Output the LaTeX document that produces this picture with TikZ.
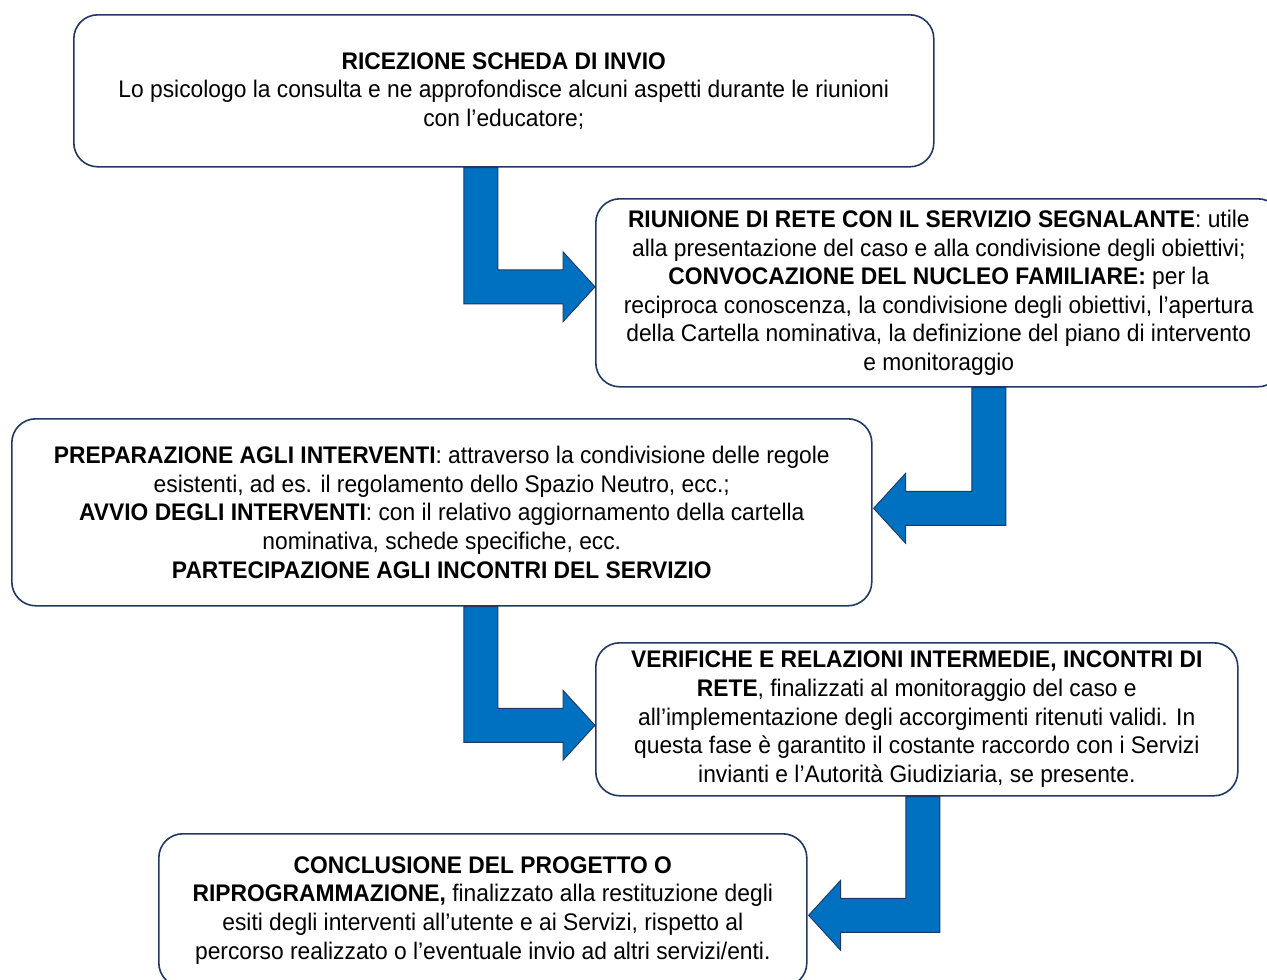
\documentclass[tikz,border=0pt]{standalone}
\usepackage{fontspec}
\setmainfont[FakeStretch=0.95]{Liberation Sans}
\usetikzlibrary{calc}
\definecolor{bordo}{HTML}{1F3864}
\definecolor{azzurro}{HTML}{0070C0}
% freccia a gomito: #1 attacco del fusto, #2 punta, #3 verso (1 destra, -1 sinistra)
\newcommand{\freccia}[3]{%
  \draw[freccia] let \p1=(#1), \p2=(#2) in
    ({\x1-(#3)*17pt},\y1) -- ({\x1-(#3)*17pt},{\y2-17pt})
    -- ({\x2-(#3)*32pt},{\y2-17pt}) -- ({\x2-(#3)*32pt},{\y2-35pt})
    -- (\x2,\y2) -- ({\x2-(#3)*32pt},{\y2+35pt})
    -- ({\x2-(#3)*32pt},{\y2+17pt}) -- ({\x1+(#3)*17pt},{\y2+17pt})
    -- ({\x1+(#3)*17pt},\y1) -- cycle;}
\begin{document}
\begin{tikzpicture}[x=1pt,y=-1pt,
    box/.style={draw=bordo, line width=1.6pt, rounded corners=24pt, inner sep=0pt,
      align=center, anchor=north west, font=\fontsize{24}{28.6}\selectfont},
    freccia/.style={fill=azzurro, draw=bordo, line width=0.9pt}]
  \useasboundingbox (0,0) rectangle (1267,980);

  % Ricezione scheda
  \node[box, minimum width=860pt, minimum height=152pt] (ricezione) at (73,14)
    {\textbf{RICEZIONE SCHEDA DI INVIO}\\
     Lo psicologo la consulta e ne approfondisce alcuni aspetti durante le riunioni\\
     con l’educatore;};

  % Riunione di rete
  \node[box, minimum width=686pt, minimum height=188pt] (riunione) at (595,198)
    {\textbf{RIUNIONE DI RETE CON IL SERVIZIO SEGNALANTE}: utile\\
     alla presentazione del caso e alla condivisione degli obiettivi;\\
     \textbf{CONVOCAZIONE DEL NUCLEO FAMILIARE:} per la\\
     reciproca conoscenza, la condivisione degli obiettivi, l’apertura\\
     della Cartella nominativa, la definizione del piano di intervento\\
     e monitoraggio};

  % Preparazione e avvio
  \node[box, minimum width=860pt, minimum height=187pt] (preparazione) at (11,418)
    {\textbf{PREPARAZIONE AGLI INTERVENTI}: attraverso la condivisione delle regole\\
     esistenti, ad es. il regolamento dello Spazio Neutro, ecc.;\\
     \textbf{AVVIO DEGLI INTERVENTI}: con il relativo aggiornamento della cartella\\
     nominativa, schede specifiche, ecc.\\
     \textbf{PARTECIPAZIONE AGLI INCONTRI DEL SERVIZIO}};

  % Verifiche
  \node[box, minimum width=642pt, minimum height=153pt] (verifiche) at (595,642)
    {\textbf{VERIFICHE E RELAZIONI INTERMEDIE, INCONTRI DI}\\
     \textbf{RETE}, finalizzati al monitoraggio del caso e\\
     all’implementazione degli accorgimenti ritenuti validi. In\\
     questa fase è garantito il costante raccordo con i Servizi\\
     invianti e l’Autorità Giudiziaria, se presente.};

  % Conclusione
  \node[box, minimum width=648pt, minimum height=153pt] (conclusione) at (158,833)
    {\textbf{CONCLUSIONE DEL PROGETTO O}\\
     \textbf{RIPROGRAMMAZIONE,} finalizzato alla restituzione degli\\
     esiti degli interventi all’utente e ai Servizi, rispetto al\\
     percorso realizzato o l’eventuale invio ad altri servizi/enti.};

  % frecce
  \freccia{$(ricezione.south)+(-23,0)$}{$(riunione.west)+(0,-6)$}{1}
  \freccia{$(riunione.south)+(50,0)$}{$(preparazione.east)+(1,-4)$}{-1}
  \freccia{$(preparazione.south)+(39,0)$}{$(verifiche.west)+(0,6)$}{1}
  \freccia{$(verifiche.south)+(6,0)$}{$(conclusione.east)+(1,5)$}{-1}
\end{tikzpicture}
\end{document}
